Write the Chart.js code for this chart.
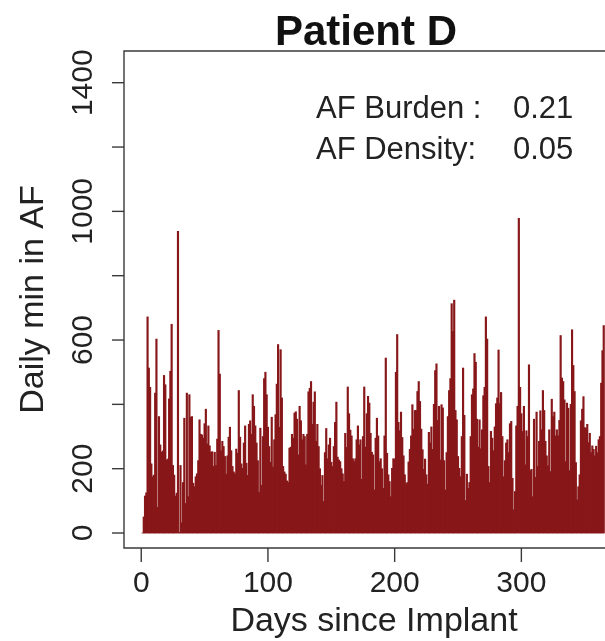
<!DOCTYPE html>
<html>
<head>
<meta charset="utf-8">
<title>Patient D</title>
<script src="https://cdn.jsdelivr.net/npm/chart.js@4.4.1/dist/chart.umd.min.js"></script>
<style>
  html, body { margin: 0; padding: 0; background: #fff; overflow: hidden; }
  #wrap { width: 605px; height: 641px; position: relative; }
</style>
</head>
<body>
<div id="wrap"><canvas id="chart" width="605" height="641"></canvas></div>
<script>
const chartTitle = "Patient D";
const xTitle = "Days since Implant";
const yTitle = "Daily min in AF";
const noteLabels = ["AF Burden :", "AF Density:"];
const noteValues = ["0.21", "0.05"];
const xTicks = [0, 100, 200, 300];
const yTicks = [0, 200, 400, 600, 800, 1000, 1200, 1400];
const yTickLabels = ["0", "200", "", "600", "", "1000", "", "1400"];

// daily minutes in AF, day 1..365
const dailyMinutes = [
  0, 50, 115, 125, 672, 513, 453, 215, 175, 180,
  435, 603, 80, 362, 274, 251, 255, 490, 461, 227,
  230, 417, 503, 649, 210, 180, 115, 124, 938, 2,
  210, 32, 157, 357, 92, 435, 113, 430, 360, 362,
  155, 144, 175, 184, 225, 352, 307, 305, 295, 340,
  385, 277, 333, 271, 251, 253, 207, 251, 210, 292,
  630, 494, 256, 285, 269, 238, 183, 240, 298, 329,
  256, 207, 190, 184, 261, 248, 443, 298, 215, 201,
  280, 333, 217, 179, 338, 349, 307, 430, 394, 333,
  280, 225, 126, 326, 148, 300, 480, 500, 430, 329,
  269, 220, 360, 205, 290, 368, 463, 586, 329, 570,
  420, 207, 190, 183, 162, 157, 264, 267, 307, 295,
  373, 377, 354, 243, 394, 349, 290, 307, 300, 212,
  307, 439, 450, 471, 338, 407, 439, 285, 338, 269,
  200, 148, 179, 98, 250, 325, 231, 274, 295, 220,
  207, 269, 344, 407, 236, 227, 222, 200, 184, 160,
  310, 266, 454, 371, 320, 302, 231, 222, 231, 290,
  333, 274, 290, 167, 300, 454, 267, 371, 425, 404,
  310, 251, 243, 134, 295, 357, 302, 222, 231, 200,
  139, 302, 544, 248, 181, 160, 113, 201, 231, 230,
  500, 617, 344, 318, 376, 297, 240, 181, 153, 157,
  221, 260, 302, 399, 323, 381, 381, 440, 471, 409,
  323, 259, 198, 230, 181, 152, 313, 280, 330, 260,
  400, 505, 526, 350, 394, 227, 399, 389, 225, 134,
  250, 362, 443, 480, 713, 627, 724, 381, 352, 238,
  201, 175, 300, 513, 366, 101, 183, 139, 157, 300,
  430, 448, 558, 531, 354, 267, 352, 262, 321, 427,
  453, 672, 603, 207, 157, 316, 295, 256, 330, 402,
  420, 569, 402, 437, 300, 175, 225, 280, 290, 250,
  340, 347, 170, 72, 129, 333, 394, 978, 453, 371,
  316, 394, 212, 318, 300, 523, 194, 198, 113, 354,
  173, 376, 207, 285, 380, 321, 443, 381, 285, 240,
  209, 321, 191, 416, 362, 376, 302, 321, 302, 350,
  614, 482, 471, 414, 222, 404, 388, 194, 400, 632,
  521, 440, 219, 103, 144, 181, 349, 385, 424, 328,
  325, 338, 281, 310, 250, 271, 260, 240, 270, 250,
  290, 300, 466, 567, 645
];
const days = dailyMinutes.map((_, i) => i + 1);

const FONT = '"Liberation Sans", Arial, Helvetica, sans-serif';
const INK = "#222";
const AXIS = "#3a3a3a";

// R-style box, ticks and labels drawn from the chart's own scales
const rAxes = {
  id: "rAxes",
  afterDraw(chart) {
    const { ctx, chartArea: a, scales: { x, y } } = chart;
    ctx.save();
    ctx.strokeStyle = AXIS;
    ctx.lineWidth = 1.4;

    // box (right side falls outside the picture)
    ctx.beginPath();
    ctx.moveTo(chart.width + 2, a.top);
    ctx.lineTo(a.left, a.top);
    ctx.lineTo(a.left, a.bottom);
    ctx.lineTo(chart.width + 2, a.bottom);
    ctx.stroke();

    // y ticks
    ctx.fillStyle = INK;
    ctx.font = "30px " + FONT;
    yTicks.forEach((v, i) => {
      const py = y.getPixelForValue(v);
      ctx.beginPath();
      ctx.moveTo(a.left - 12, py);
      ctx.lineTo(a.left, py);
      ctx.stroke();
      if (yTickLabels[i]) {
        ctx.save();
        ctx.translate(a.left - 40, py);
        ctx.rotate(-Math.PI / 2);
        ctx.textAlign = "center";
        ctx.textBaseline = "middle";
        ctx.fillText(yTickLabels[i], 0, 0);
        ctx.restore();
      }
    });

    // x ticks
    xTicks.forEach((v) => {
      const px = x.getPixelForValue(v);
      ctx.beginPath();
      ctx.moveTo(px, a.bottom);
      ctx.lineTo(px, a.bottom + 14);
      ctx.stroke();
      ctx.textAlign = "center";
      ctx.textBaseline = "middle";
      ctx.fillText(String(v), px, a.bottom + 36);
    });

    // axis titles
    ctx.font = "34px " + FONT;
    ctx.textAlign = "center";
    ctx.textBaseline = "alphabetic";
    ctx.fillText(xTitle, 374, 631);
    ctx.save();
    ctx.translate(43, (a.top + a.bottom) / 2);
    ctx.rotate(-Math.PI / 2);
    ctx.fillText(yTitle, 0, 0);
    ctx.restore();

    // main title
    ctx.font = "bold 42px " + FONT;
    ctx.fillStyle = "#111";
    ctx.fillText(chartTitle, 366, 45);

    // burden / density note
    ctx.font = "31px " + FONT;
    ctx.fillStyle = INK;
    ctx.textAlign = "left";
    noteLabels.forEach((t, i) => {
      const by = 118 + i * 41;
      ctx.fillText(t, 316, by);
      ctx.fillText(noteValues[i], 513, by);
    });
    ctx.restore();
  }
};

new Chart(document.getElementById("chart"), {
  type: "bar",
  data: {
    datasets: [{
      data: days.map((d, i) => ({ x: d, y: dailyMinutes[i] })),
      backgroundColor: "#871719",
      borderWidth: 0,
      barThickness: 1.5
    }]
  },
  options: {
    responsive: false,
    animation: false,
    events: [],
    layout: { padding: { left: 124, top: 51, right: 0, bottom: 93 } },
    plugins: { legend: { display: false }, tooltip: { enabled: false } },
    scales: {
      x: { type: "linear", min: -13.6, max: 366, offset: false, grid: { offset: false }, display: false },
      y: { min: -46.6, max: 1498.6, display: false }
    }
  },
  plugins: [rAxes]
});
</script>
</body>
</html>
